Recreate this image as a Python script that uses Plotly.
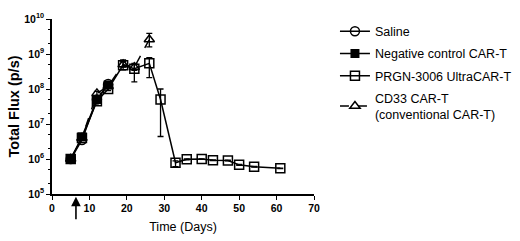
import plotly.graph_objects as go

# ---- data ----
days_saline = [5, 8, 12, 15]
saline = [1.0e6, 3.5e6, 5.0e7, 1.4e8]

days_neg = [5, 8, 12, 15]
neg = [1.0e6, 4.3e6, 5.0e7, 1.3e8]

days_prgn = [5, 8, 12, 15, 19, 22, 26, 29, 33, 36, 40, 43, 47, 50, 54, 61]
prgn = [1.0e6, 4.0e6, 4.5e7, 1.0e8, 4.8e8, 3.8e8, 5.4e8, 5.0e7, 7.8e5, 9.8e5,
        1.0e6, 9.2e5, 9.0e5, 6.8e5, 6.0e5, 5.4e5]
prgn_hi = [1.0e6, 4.5e6, 5.5e7, 1.1e8, 6.8e8, 5.4e8, 7.9e8, 1.0e8, 8.8e5, 1.0e6,
           1.0e6, 9.4e5, 9.2e5, 7.0e5, 6.1e5, 5.5e5]
prgn_lo = [1.0e6, 3.6e6, 4.0e7, 9.0e7, 3.5e8, 1.6e8, 2.1e8, 4.4e6, 6.0e5, 9.5e5,
           1.0e6, 9.0e5, 8.8e5, 6.6e5, 5.9e5, 5.3e5]

days_cd33 = [5, 8, 12, 15, 19, 22, 26]
cd33 = [1.0e6, 4.0e6, 7.5e7, 1.2e8, 5.0e8, 4.2e8, 2.6e9]
cd33_hi = [1.0e6, 4.4e6, 8.5e7, 1.3e8, 6.0e8, 5.0e8, 3.9e9]
cd33_lo = [1.0e6, 3.6e6, 6.5e7, 1.1e8, 4.2e8, 3.4e8, 1.6e9]

ytick_vals = [1e5, 1e6, 1e7, 1e8, 1e9, 1e10]
ytick_text = ["10<sup>5</sup>", "10<sup>6</sup>", "10<sup>7</sup>",
              "10<sup>8</sup>", "10<sup>9</sup>", "10<sup>10</sup>"]

FONT = "Liberation Sans, Arial, sans-serif"

def err(vals, hi, lo):
    return dict(type="data", symmetric=False,
                array=[h - v for h, v in zip(hi, vals)],
                arrayminus=[v - l for v, l in zip(vals, lo)],
                color="black", thickness=1.3, width=3)

fig = go.Figure()
fig.add_trace(go.Scatter(
    x=days_saline, y=saline, name="Saline", mode="lines+markers", legendgroup="a",
    line=dict(color="black", width=1.5),
    marker=dict(symbol="circle-open", size=9, color="black", line=dict(width=1.5))))
fig.add_trace(go.Scatter(
    x=days_neg, y=neg, name="Negative control CAR-T", mode="lines+markers", legendgroup="b",
    line=dict(color="black", width=1.5),
    marker=dict(symbol="square", size=9, color="black")))
fig.add_trace(go.Scatter(
    x=days_prgn, y=prgn, name="PRGN-3006 UltraCAR-T", mode="lines+markers", legendgroup="c",
    line=dict(color="black", width=1.5),
    marker=dict(symbol="square-open", size=9, color="black", line=dict(width=1.5)),
    error_y=err(prgn, prgn_hi, prgn_lo)))
fig.add_trace(go.Scatter(
    x=days_cd33, y=cd33, name="CD33 CAR-T<br>(conventional CAR-T)", mode="lines+markers",
    legendgroup="d",
    line=dict(color="black", width=1.5, dash="dash"),
    marker=dict(symbol="triangle-up-open", size=9, color="black", line=dict(width=1.5)),
    error_y=err(cd33, cd33_hi, cd33_lo)))

fig.add_annotation(x=6.4, y=-0.015, xref="x", yref="paper", ax=0, ay=24,
                   axref="pixel", ayref="pixel", showarrow=True, arrowhead=2,
                   arrowsize=1.2, arrowwidth=1.6, arrowcolor="black", text="")

fig.update_layout(
    width=520, height=241,
    margin=dict(l=52, r=206, t=19, b=47, autoexpand=False),
    paper_bgcolor="white", plot_bgcolor="white",
    font=dict(family=FONT, size=10, color="black"),
    showlegend=True,
    legend=dict(x=1.08, y=1.014, xanchor="left", yanchor="top",
                font=dict(family=FONT, size=12.5, color="black"),
                tracegroupgap=3, itemwidth=30, bgcolor="rgba(0,0,0,0)"),
    xaxis=dict(range=[0, 70], tickvals=[0, 10, 20, 30, 40, 50, 60, 70], automargin=False,
               showline=True, linecolor="black", linewidth=1.5,
               ticks="outside", ticklen=4, tickwidth=1.3, tickcolor="black",
               showgrid=False, zeroline=False,
               tickfont=dict(family=FONT, size=10.5, weight="bold"),
               title=dict(text="Time (Days)", font=dict(family=FONT, size=12.5), standoff=9)),
    yaxis=dict(type="log", range=[5, 10], tickvals=ytick_vals, ticktext=ytick_text,
               automargin=False,
               showline=True, linecolor="black", linewidth=1.5,
               ticks="outside", ticklen=4, tickwidth=1.3, tickcolor="black",
               showgrid=False, zeroline=False,
               minor=dict(ticks="outside", ticklen=2, tickcolor="black", tickwidth=1, showgrid=False),
               tickfont=dict(family=FONT, size=10.5, weight="bold"),
               title=dict(text="Total Flux (p/s)", font=dict(family=FONT, size=14.5, weight="bold"), standoff=1)),
)

fig.write_html("out.html", config={"displayModeBar": False},
               post_script="document.body.style.margin='0';")
